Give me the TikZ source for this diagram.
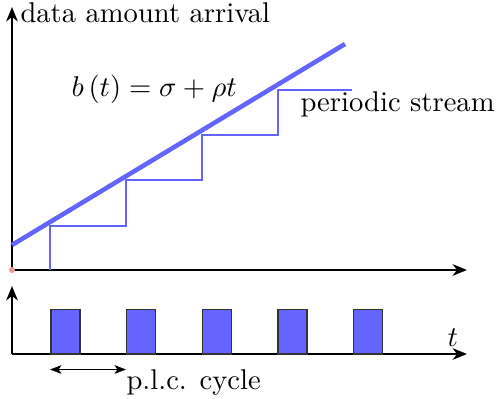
\documentclass[tikz,border=0pt]{standalone}
\usetikzlibrary{arrows.meta}
\definecolor{plcblue}{RGB}{100,100,255}
\definecolor{dotpink}{RGB}{245,150,150}
\begin{document}
\begin{tikzpicture}[x=0.35pt,y=-0.35pt,
  axis/.style={line width=1pt,-{Stealth[length=5pt,width=4pt,inset=1.5pt]}},
  envelope/.style={plcblue,line width=1.6pt},
  stair/.style={plcblue,line width=0.5pt},
  pulse/.style={fill=plcblue,draw=black!80,line width=0.4pt},
  lbl/.style={inner sep=0pt,anchor=base west}]
\useasboundingbox (0,0) rectangle (497,398);
% top axes
\coordinate (o) at (12,270);
\coordinate (ytop) at (12,7);
\coordinate (xend) at (467,270);
\draw[axis] (o) -- (ytop);
\draw[axis] (o) -- (xend);
\fill[dotpink] (o) circle (3);
% envelope
\coordinate (e0) at (12,245);
\coordinate (e1) at (345,44);
\draw[envelope] (e0) -- (e1);
% staircase
\coordinate (s0) at (50,270);
\coordinate (s9) at (352,90);
\draw[stair] (s0) |- (126,226) |- (202,180) |- (278,135) |- (s9);
% bottom axes
\coordinate (o2) at (12,354);
\coordinate (ytop2) at (12,286);
\coordinate (xend2) at (467,354);
\draw[axis] (o2) -- (ytop2);
\draw[axis] (o2) -- (xend2);
% pulses
\foreach \i/\x in {1/51,2/126.5,3/202.5,4/278,5/353.5}
  \draw[pulse] (\x,309.5) rectangle ++(29,44.5);
% cycle arrow
\coordinate (c0) at (50,369.5);
\coordinate (c1) at (126,369.5);
\draw[line width=0.5pt,{Stealth[length=4pt,width=3pt,inset=1pt]}-{Stealth[length=4pt,width=3pt,inset=1pt]}] (c0) -- (c1);
% labels
\node[lbl] (ylab) at (20,23) {data amount arrival};
\node[lbl] (eq) at (71,96.5) {$b\left(t\right)=\sigma+\rho t$};
\node[lbl] (ps) at (300,111.5) {periodic stream};
\node[lbl] (tlab) at (447,346.5) {$t$};
\node[lbl] (cyc) at (126,389) {p.l.c. cycle};
\end{tikzpicture}
\end{document}
